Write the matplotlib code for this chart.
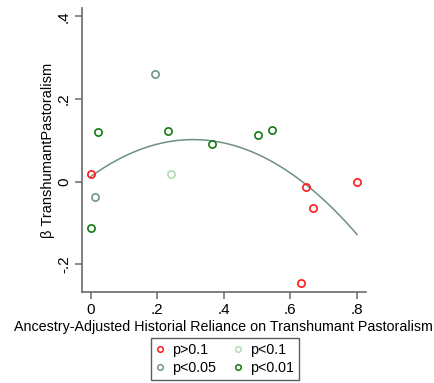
import numpy as np
import matplotlib
matplotlib.use('Agg')
import matplotlib.pyplot as plt
from matplotlib.lines import Line2D

plt.rcParams['font.family'] = ['Liberation Sans', 'DejaVu Sans']

# Historical reliance (x) and estimated coefficient (y), grouped by significance
x_p10 = [0.000, 0.647, 0.668, 0.631, 0.800]
y_p10 = [0.018, -0.012, -0.064, -0.245, 0.000]

x_p1 = [0.241]
y_p1 = [0.019]

x_p05 = [0.193, 0.014]
y_p05 = [0.261, -0.036]

x_p01 = [0.022, 0.233, 0.366, 0.502, 0.545, 0.002]
y_p01 = [0.119, 0.122, 0.090, 0.112, 0.126, -0.111]

# Quadratic fit: y = c0 + c1*x + c2*x^2
fit_coef = [0.012, 0.583, -0.947]
fit_range = [0.0, 0.8]

x_ticks = [0, 0.2, 0.4, 0.6, 0.8]
x_ticklabels = ['0', '.2', '.4', '.6', '.8']
y_ticks = [-0.2, 0, 0.2, 0.4]
y_ticklabels = ['-.2', '0', '.2', '.4']

c_p10 = '#ff1a1a'
c_p1 = '#b5dbb5'
c_p05 = '#6f9686'
c_p01 = '#137a13'
c_fit = '#6e8f85'
c_axis = '#6b6b6b'

fig = plt.figure(figsize=(4.35, 3.83), dpi=100)
ax = fig.add_axes([0.1885, 0.2376, 0.652, 0.7414])

xs = np.linspace(fit_range[0], fit_range[1], 200)
ys = fit_coef[0] + fit_coef[1] * xs + fit_coef[2] * xs ** 2
ax.plot(xs, ys, color=c_fit, lw=1.1, zorder=2)

mk = dict(marker='o', ls='none', ms=5.2, mfc='none', mew=1.2, zorder=3)
ax.plot(x_p10, y_p10, mec=c_p10, **mk)
ax.plot(x_p1, y_p1, mec=c_p1, **mk)
ax.plot(x_p05, y_p05, mec=c_p05, **mk)
ax.plot(x_p01, y_p01, mec=c_p01, **mk)

ax.set_xlim(-0.026, 0.826)
ax.set_ylim(-0.267, 0.42)
ax.set_xticks(x_ticks)
ax.set_xticklabels(x_ticklabels)
ax.set_yticks(y_ticks)
ax.set_yticklabels(y_ticklabels, rotation=90, va='center')

for s in ['top', 'right']:
    ax.spines[s].set_visible(False)
for s in ['left', 'bottom']:
    ax.spines[s].set_color(c_axis)
    ax.spines[s].set_linewidth(1.2)
ax.tick_params(colors=c_axis, width=1.1, length=5, labelsize=11,
               labelcolor='black', pad=3)

ax.set_xlabel('Ancestry-Adjusted Historial Reliance on Transhumant Pastoralism',
              fontsize=10.3, labelpad=2)
ax.set_ylabel('β TranshumantPastoralism', fontsize=10.5, labelpad=1)

handles = [
    Line2D([], [], marker='o', ls='none', ms=4, mfc='none', mew=1.1, mec=c_p10),
    Line2D([], [], marker='o', ls='none', ms=4, mfc='none', mew=1.1, mec=c_p05),
    Line2D([], [], marker='o', ls='none', ms=4, mfc='none', mew=1.1, mec=c_p1),
    Line2D([], [], marker='o', ls='none', ms=4, mfc='none', mew=1.1, mec=c_p01),
]
labels = ['p>0.1', 'p<0.05', 'p<0.1', 'p<0.01']
leg = fig.legend(handles, labels, ncol=2, loc='upper center',
                 bbox_to_anchor=(0.517, 0.117), frameon=True, fancybox=False,
                 fontsize=10.3, handlelength=0.6, handletextpad=0.5,
                 columnspacing=1.3, labelspacing=0.25, borderpad=0.35,
                 borderaxespad=0)
leg.get_frame().set_edgecolor('#333333')
leg.get_frame().set_linewidth(1.0)

fig.savefig('out.png', dpi=100)
